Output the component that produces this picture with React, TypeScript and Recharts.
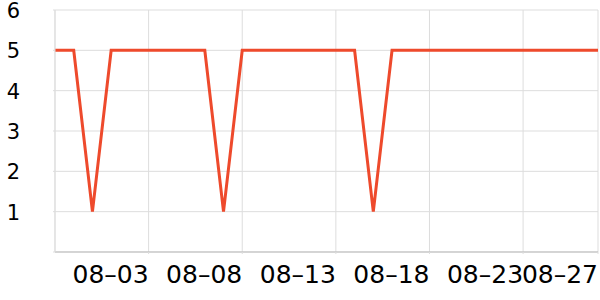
import React from 'react';
import { LineChart, Line, XAxis, YAxis, CartesianGrid } from 'recharts';

const dates: string[] = [
  '07–29', '07–30', '07–31', '08–01', '08–02', '08–03', '08–04', '08–05', '08–06', '08–07',
  '08–08', '08–09', '08–10', '08–11', '08–12', '08–13', '08–14', '08–15', '08–16', '08–17',
  '08–18', '08–19', '08–20', '08–21', '08–22', '08–23', '08–24', '08–25', '08–26', '08–27',
];
const values: number[] = [
  5, 5, 1, 5, 5, 5, 5, 5, 5, 1,
  5, 5, 5, 5, 5, 5, 5, 1, 5, 5,
  5, 5, 5, 5, 5, 5, 5, 5, 5, 5,
];
const xTickLabels: string[] = ['08–03', '08–08', '08–13', '08–18', '08–23', '08–27'];
const yTicks: number[] = [0, 1, 2, 3, 4, 5, 6];

const data = dates.map((d, i) => ({ idx: i, date: d, value: values[i] }));
const xTicks = xTickLabels.map((l) => dates.indexOf(l));

const FONT = '"DejaVu Sans", sans-serif';

const XTick = (props: any) => {
  const { x, y, payload } = props;
  return (
    <text x={x} y={y + 27} textAnchor="end" fontFamily={FONT} fontSize={25} fill="#000">
      {dates[payload.value]}
    </text>
  );
};

const YTick = (props: any) => {
  const { y, payload } = props;
  if (payload.value === 0) return null;
  return (
    <text x={20} y={y} dy={8} textAnchor="end" fontFamily={FONT} fontSize={21} fill="#000">
      {payload.value}
    </text>
  );
};

export default function App() {
  return (
    <div style={{ position: 'absolute', left: 0, top: 0 }}>
      <LineChart
        width={600}
        height={300}
        data={data}
        margin={{ top: 10, right: 2, left: 0, bottom: 0 }}
      >
        <CartesianGrid stroke="#dddddd" strokeWidth={1} />
        <XAxis
          dataKey="idx"
          type="number"
          domain={[0, dates.length - 1]}
          ticks={xTicks}
          interval={0}
          height={48}
          tick={<XTick />}
          tickSize={2}
          tickLine={{ stroke: '#dddddd' }}
          axisLine={{ stroke: '#bbbbbb' }}
        />
        <YAxis
          domain={[0, 6]}
          ticks={yTicks}
          interval={0}
          width={55}
          tick={<YTick />}
          tickSize={2}
          tickLine={{ stroke: '#dddddd' }}
          axisLine={{ stroke: '#dddddd' }}
        />
        <Line
          type="linear"
          dataKey="value"
          stroke="#ee4a2c"
          strokeWidth={3}
          dot={false}
          isAnimationActive={false}
        />
      </LineChart>
    </div>
  );
}
